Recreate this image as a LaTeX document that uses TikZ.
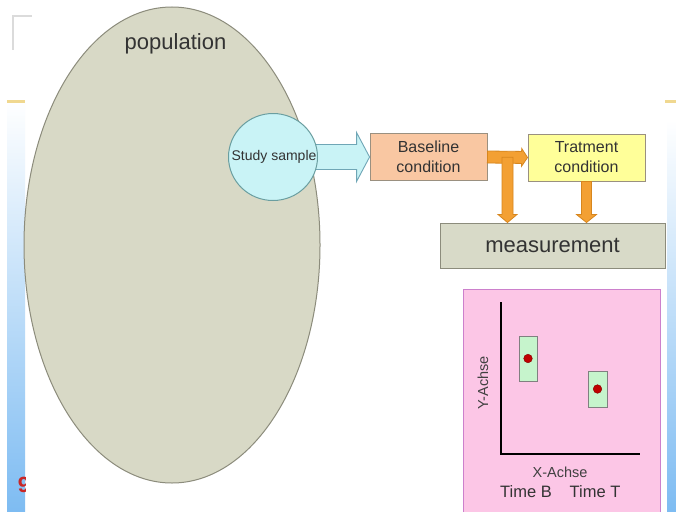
\documentclass[tikz,border=0pt]{standalone}
\usepackage{fontspec}
\setmainfont{Liberation Sans}
\usetikzlibrary{calc,shapes.geometric}

\definecolor{popfill}{HTML}{D8D9C6}
\definecolor{popline}{HTML}{8C8C7C}
\definecolor{samplefill}{HTML}{C9F3F6}
\definecolor{sampleline}{HTML}{6A9EA0}
\definecolor{arrowline}{HTML}{6FA6B6}
\definecolor{basefill}{HTML}{F9C7A2}
\definecolor{boxline}{HTML}{9A9080}
\definecolor{trtfill}{HTML}{FFFF99}
\definecolor{measfill}{HTML}{D8DAC8}
\definecolor{flowfill}{HTML}{F3A033}
\definecolor{flowline}{HTML}{D7861E}
\definecolor{plotfill}{HTML}{FCC6E6}
\definecolor{plotline}{HTML}{CC80CC}
\definecolor{rangefill}{HTML}{C6F4CC}
\definecolor{dotred}{HTML}{C00000}
\definecolor{stripblue}{HTML}{7EBCF2}
\definecolor{stripyellow}{HTML}{F0D890}

% block arrow: #1 style, #2 tail, #3 tip, #4 half shaft, #5 half head, #6 head length
\newcommand{\blockarrow}[6]{%
  \coordinate (ba-h) at ($(#3)!#6!(#2)$);
  \filldraw[#1] ($(#2)!#4!90:(#3)$) -- ($(ba-h)!#4!90:(#3)$) -- ($(ba-h)!#5!90:(#3)$)
    -- (#3) -- ($(ba-h)!#5!-90:(#3)$) -- ($(ba-h)!#4!-90:(#3)$) -- ($(#2)!#4!-90:(#3)$) -- cycle;}

\begin{document}
\begin{tikzpicture}[x=1pt,y=-1pt,
  condbox/.style={draw=boxline, line width=0.9pt, minimum width=117pt, minimum height=47pt,
    align=center, font=\fontsize{16}{20}\selectfont, text=black!80},
  rangebox/.style={draw=gray, line width=0.8pt, fill=rangefill},
  reddot/.style={fill=dotred, draw=dotred!70!black, line width=0.4pt},
  axislabel/.style={font=\fontsize{14.5}{16}\selectfont, text=black!75},
  timelabel/.style={font=\fontsize{16.5}{18}\selectfont, text=black!80},
  flow/.style={fill=flowfill, draw=flowline, line width=0.8pt, line join=miter}]

\useasboundingbox (0,0) rectangle (676,511);
\fill[white] (0,0) rectangle (676,511);

% slide frame remnants at the edges
\shade[top color=white, middle color=stripblue!45, bottom color=stripblue] (7,100) rectangle (25,511);
\shade[top color=white, middle color=stripblue!45, bottom color=stripblue] (667,120) rectangle (676,511);
\fill[stripyellow] (7,100) rectangle (25,103);
\fill[stripyellow] (665,100) rectangle (676,103);
\draw[black!14, line width=1.6pt] (13,50) -- (13,16) -- (32,16);
\begin{scope}
  \clip (15,465) rectangle (25.5,505);
  \node[text=dotred!85, font=\fontsize{22}{24}\selectfont\bfseries] (frag) at (24,485) {9};
\end{scope}

% population and sample
\node[ellipse, draw=popline, fill=popfill, line width=1pt,
  minimum width=296pt, minimum height=476pt] (pop) at (172,245) {};
\node[font=\fontsize{22}{24}\selectfont, text=black!80] (poplabel) at (175.5,44) {population};

\coordinate (ssc) at (273,157);
\node[condbox, fill=basefill] (base) at (428.5,157) {Baseline\\condition};
\node[condbox, fill=trtfill] (trt) at (586.5,157.5) {Tratment\\condition};
\node[draw=popline, fill=measfill, line width=1pt, minimum width=225pt, minimum height=45pt,
  font=\fontsize{22}{24}\selectfont, text=black!80] (meas) at (552.5,245.5) {measurement};

% sample arrow into the study
\coordinate (sstail) at (300,157);
\blockarrow{fill=samplefill, draw=arrowline, line width=0.9pt}{sstail}{base.west}{12.5pt}{24.5pt}{13pt}

\node[ellipse, draw=sampleline, fill=samplefill, line width=1pt,
  minimum width=89pt, minimum height=87pt, inner sep=0pt] (ss) at (ssc) {};
\node[font=\fontsize{14}{16}\selectfont, text=black!80] (sslabel) at (274,157) {Study sample};

% measurement flow
\blockarrow{flow}{base.east}{trt.west}{6pt}{9pt}{6pt}
\coordinate (j) at ($(base.east)!0.5!(trt.west)$);
\coordinate (jm) at (j |- meas.north);
\blockarrow{flow}{j}{jm}{5.5pt}{9.5pt}{8pt}
\coordinate (tm) at (trt.south |- meas.north);
\blockarrow{flow}{trt.south}{tm}{5pt}{10pt}{8pt}

% result plot
\path[fill=plotfill, draw=plotline, line width=1.2pt] (463.5,289.5) rectangle (660.5,515);
\coordinate (origin) at (501,454);
\coordinate (ytop) at (501,302);
\coordinate (xend) at (640,454);
\draw[black, line width=2.6pt] (ytop) -- (origin) -- (xend);

\node[rangebox, minimum width=18pt, minimum height=45pt, inner sep=0pt] (rb) at (528,358.5) {};
\node[rangebox, minimum width=19pt, minimum height=36pt, inner sep=0pt] (rt) at (597.5,389) {};
\fill[reddot] (rb.center) circle (4.3pt);
\fill[reddot] (rt.center) circle (4.3pt);

\node[axislabel, rotate=90] (ylab) at (483,383) {Y-Achse};
\node[axislabel] (xlab) at (560,472) {X-Achse};
\node[timelabel] (tb) at (526,492) {Time B};
\node[timelabel] (tt) at (595,492) {Time T};
\end{tikzpicture}
\end{document}
